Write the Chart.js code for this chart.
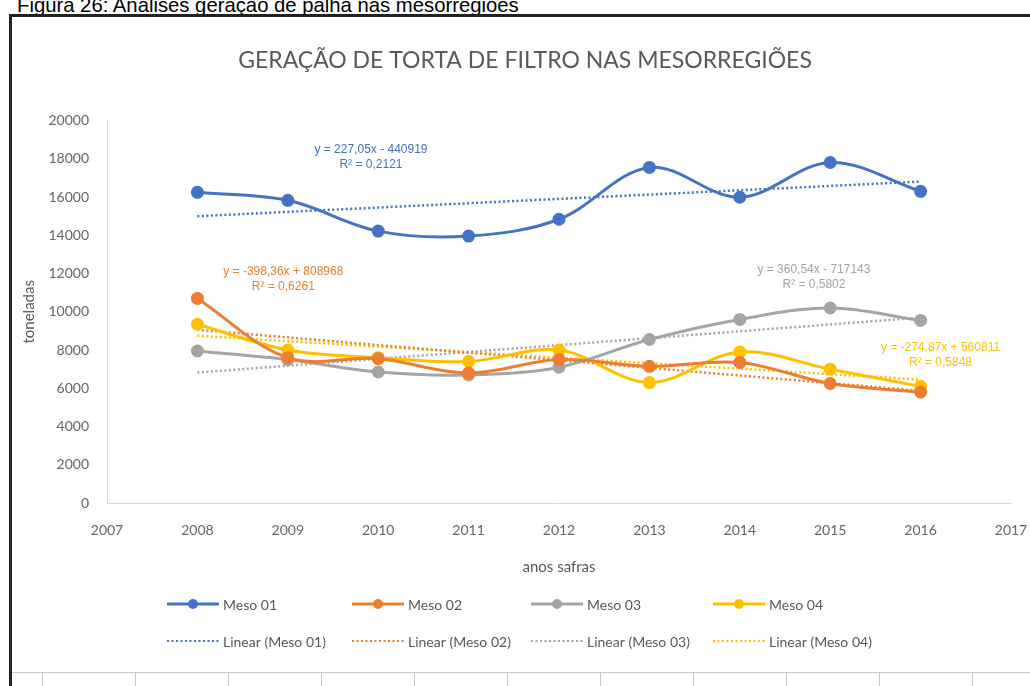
<!DOCTYPE html>
<html>
<head>
<meta charset="utf-8">
<script src="https://cdn.jsdelivr.net/npm/chart.js@4"></script>
<style>
  html, body { margin: 0; padding: 0; background: #fff; }
  body { width: 1030px; height: 686px; position: relative; overflow: hidden; }
  #caption { position: absolute; left: 17px; top: -6px; font: 20.3px "Liberation Sans", Arial, sans-serif; line-height: 22px; color: #000; white-space: nowrap; }
  #frame { position: absolute; left: 9px; top: 14px; width: 1040px; height: 700px; border-left: 3px solid #222; border-top: 3px solid #222; }
  #cells { position: absolute; left: 12px; top: 672px; width: 1018px; height: 14px; border-top: 1px solid #c8c8c8; }
  .vline { position: absolute; top: 0; width: 1px; height: 14px; background: #c8c8c8; }
  #wrap { position: absolute; left: 0; top: 0; width: 1030px; height: 686px; }
</style>
</head>
<body>
<div id="caption">Figura 26: Análises geração de palha nas mesorregiões</div>
<div id="frame"></div>
<div id="cells"></div>
<div id="wrap"><canvas id="chart" width="1030" height="686"></canvas></div>
<script>
// data
const years = [2008, 2009, 2010, 2011, 2012, 2013, 2014, 2015, 2016];
const meso01 = [16250, 15830, 14220, 13960, 14840, 17550, 15990, 17810, 16300];
const meso02 = [10700, 7600, 7550, 6800, 7500, 7150, 7350, 6250, 5800];
const meso03 = [7950, 7500, 6850, 6700, 7100, 8550, 9600, 10200, 9550];
const meso04 = [9350, 8000, 7600, 7400, 8000, 6300, 7900, 7000, 6100];
// trend line ends (2008, 2016)
const trendYears = [2008, 2016];
const trend01 = [15000, 16810];
const trend02 = [9060, 5870];
const trend03 = [6820, 9700];
const trend04 = [8750, 6450];
const seriesNames = ['Meso 01', 'Meso 02', 'Meso 03', 'Meso 04'];
const equations = [
  ['y = 227,05x - 440919', 'R² = 0,2121'],
  ['y = -398,36x + 808968', 'R² = 0,6261'],
  ['y = 360,54x - 717143', 'R² = 0,5802'],
  ['y = -274,87x + 560811', 'R² = 0,5848']
];
const colors = ['#4472C4', '#ED7D31', '#A5A5A5', '#FFC000'];

// excel cell lines under the chart
const cells = document.getElementById('cells');
for (let x = 42; x < 1030; x += 93) {
  const d = document.createElement('div');
  d.className = 'vline';
  d.style.left = (x - 12) + 'px';
  cells.appendChild(d);
}

const pts = (xs, ys) => xs.map((x, i) => ({x: x, y: ys[i]}));
const seriesData = [meso01, meso02, meso03, meso04];
const trendData = [trend01, trend02, trend03, trend04];

const datasets = [];
seriesData.forEach((s, i) => {
  datasets.push({
    label: seriesNames[i],
    data: pts(years, s),
    borderColor: colors[i],
    backgroundColor: colors[i],
    borderWidth: 3,
    pointRadius: 5,
    pointHoverRadius: 5,
    tension: 0.35,
    order: 1
  });
});
trendData.forEach((t, i) => {
  datasets.push({
    label: 'Linear (' + seriesNames[i] + ')',
    data: pts(trendYears, t),
    borderColor: colors[i],
    borderWidth: 2.5,
    borderDash: [2, 2.5],
    pointRadius: 0,
    order: 2,
    isTrend: true
  });
});

const eqFont = '12px "Liberation Sans Narrow", "Liberation Sans", Arial, sans-serif';
const labelPlugin = {
  id: 'eqLabels',
  afterDatasetsDraw(chart, args, opts) {
    const ctx = chart.ctx, xs = chart.scales.x, ys = chart.scales.y;
    ctx.save();
    ctx.font = eqFont;
    ctx.textAlign = 'center';
    ctx.textBaseline = 'middle';
    opts.at.forEach((p, i) => {
      const px = xs.getPixelForValue(p[0]);
      const py = ys.getPixelForValue(p[1]);
      ctx.fillStyle = colors[i];
      ctx.fillText(equations[i][0], px, py);
      ctx.fillText(equations[i][1], px, py + 15);
    });
    ctx.restore();
  }
};

const legendPlugin = {
  id: 'gridLegend',
  afterDraw(chart, args, opts) {
    const ctx = chart.ctx;
    ctx.save();
    ctx.font = '14px Lato, "Open Sans", sans-serif';
    ctx.textBaseline = 'middle';
    ctx.fillStyle = '#595959';
    chart.data.datasets.forEach((ds, i) => {
      const col = i % 4, row = Math.floor(i / 4);
      const x = opts.cols[col], y = opts.rows[row];
      ctx.strokeStyle = ds.borderColor;
      if (ds.isTrend) {
        ctx.lineWidth = 2;
        ctx.setLineDash([2, 2.5]);
      } else {
        ctx.lineWidth = 3;
        ctx.setLineDash([]);
      }
      ctx.beginPath();
      ctx.moveTo(x, y);
      ctx.lineTo(x + 52, y);
      ctx.stroke();
      ctx.setLineDash([]);
      if (!ds.isTrend) {
        ctx.fillStyle = ds.borderColor;
        ctx.beginPath();
        ctx.arc(x + 26, y, 5, 0, Math.PI * 2);
        ctx.fill();
      }
      ctx.fillStyle = '#595959';
      ctx.fillText(ds.label, x + 56, y + 1);
    });
    ctx.restore();
  }
};

new Chart(document.getElementById('chart').getContext('2d'), {
  type: 'line',
  data: { datasets: datasets },
  options: {
    responsive: false,
    animation: false,
    layout: { padding: { left: 20, right: 0, top: 16, bottom: 110 } },
    plugins: {
      legend: { display: false },
      tooltip: { enabled: false },
      title: {
        display: true,
        text: 'GERAÇÃO DE TORTA DE FILTRO NAS MESORREGIÕES',
        color: '#595959',
        font: { family: 'Lato, "Open Sans", sans-serif', size: 23, weight: 'normal' },
        padding: { top: 31, bottom: 46 }
      },
      eqLabels: { at: [[2009.92, 18500], [2008.95, 12100], [2014.82, 12200], [2016.22, 8110]] },
      gridLegend: { cols: [167, 352, 531, 713], rows: [604, 641] }
    },
    scales: {
      x: {
        type: 'linear',
        min: 2007,
        max: 2017,
        grid: { display: false, drawTicks: false },
        border: { display: true, color: '#d9d9d9', width: 1 },
        ticks: {
          stepSize: 1,
          padding: 19,
          color: '#666',
          font: { family: 'Lato, "Open Sans", sans-serif', size: 14 },
          callback: v => String(v)
        },
        title: {
          display: true,
          text: 'anos safras',
          color: '#595959',
          font: { family: 'Lato, "Open Sans", sans-serif', size: 15 },
          padding: { top: 11, bottom: 0 }
        },
        afterFit: s => { s.height = 73; s.paddingLeft = 0; s.paddingRight = 19; }
      },
      y: {
        min: 0,
        max: 20000,
        grid: { display: false, drawTicks: false },
        border: { display: true, color: '#d9d9d9', width: 1 },
        ticks: {
          stepSize: 2000,
          padding: 18,
          color: '#666',
          font: { family: 'Lato, "Open Sans", sans-serif', size: 14 },
          callback: v => String(v)
        },
        title: {
          display: true,
          text: 'toneladas',
          color: '#595959',
          font: { family: 'Lato, "Open Sans", sans-serif', size: 15 },
          padding: { top: 0, bottom: 4 }
        },
        afterFit: s => { s.width = 87; }
      }
    }
  },
  plugins: [labelPlugin, legendPlugin]
});
</script>
</body>
</html>
